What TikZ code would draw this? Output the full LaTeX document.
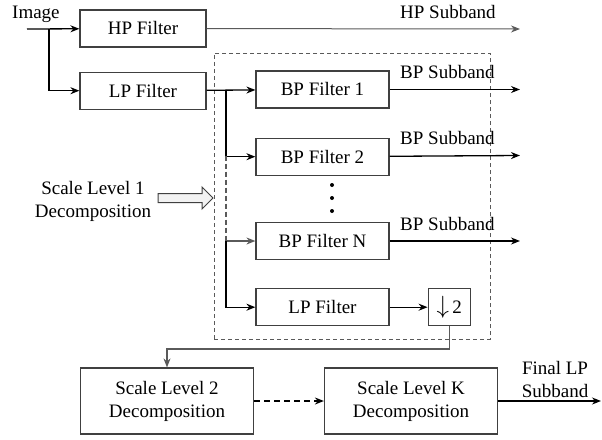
\documentclass[tikz,border=0pt]{standalone}
\usepackage{fontspec}
\setmainfont{Liberation Serif}
\usepackage{tikz}
\usetikzlibrary{arrows.meta,positioning,calc}
\definecolor{boxline}{RGB}{64,64,64}
\definecolor{wiregray}{RGB}{90,90,90}

\begin{document}
\begin{tikzpicture}[
    x=1pt, y=-1pt,
    font=\fontsize{19}{23}\selectfont,
    filterbox/.style={rectangle, draw=boxline, line width=1.2pt, minimum width=126pt, minimum height=37pt, inner sep=0pt},
    bpbox/.style={filterbox, minimum width=133pt},
    levelbox/.style={rectangle, draw=boxline, line width=1.2pt, minimum width=173pt, minimum height=66pt, align=center},
    lbl/.style={inner sep=0pt, anchor=base west},
    wire/.style={line width=1.3pt, -{Stealth[length=9pt,width=7pt]}},
    frame/.style={draw=wiregray, line width=0.9pt, dash pattern=on 4pt off 3pt}
]
    \useasboundingbox (0,0) rectangle (602,439);

    % first split
    \coordinate (in) at (27,29);
    \coordinate (split) at (49,29);
    \node[lbl] (imagelbl) at (12,18) {Image};
    \node[filterbox] (hp) at (143,28.5) {HP Filter};
    \node[filterbox, below=24pt of hp] (lp) {LP Filter};
    \coordinate (hpout) at (520,29);
    \node[lbl] (hplbl) at (400,18) {HP Subband};
    \draw[wire] (in) -- (hp);
    \draw[wire] (split) |- (lp);
    \draw[wire, wiregray, line width=1pt] (hp) -- (hpout);

    % scale level 1
    \node[frame, minimum width=276pt, minimum height=286pt] (lvlone) at (352,196) {};
    \node[bpbox] (bp1) at (322.5,89.5) {BP Filter 1};
    \node[bpbox, below=29pt of bp1] (bp2) {BP Filter 2};
    \node[bpbox] (bpn) at (322.5,241) {BP Filter N};
    \node[bpbox, below=28pt of bpn] (lp2) {LP Filter};
    \node[filterbox, minimum width=42pt, right=38pt of lp2] (down) {{\fontsize{25}{25}\selectfont$\downarrow$}\,2};
    \foreach \y in {185,198,211}
        \fill (332,\y) circle (2pt);

    \coordinate (b1) at (226,89.5);
    \coordinate (b2) at (226,155.5);
    \coordinate (bn) at (226,241);
    \draw[wire] (lp) -- (bp1);
    \draw[wire] (b1) |- (bp2);
    \draw[draw=wiregray, line width=1.2pt, dash pattern=on 5pt off 3pt] (b2) -- (bn);
    \draw[wire, wiregray] (bn) -- (bpn);
    \draw[wire] (bn) |- (lp2);
    \draw[wire] (lp2) -- (down);

    \foreach \n/\y in {bp1/89.5, bp2/155.5, bpn/241} {
        \coordinate (\n out) at (520,\y);
        \draw[wire] (\n) -- (\n out);
        \node[lbl] (\n lbl) at (400,\y-11) {BP Subband};
    }

    \node[align=center, inner sep=0pt] (lvlonelbl) at (93,201) {Scale Level 1\\Decomposition};
    \draw[draw=boxline, line width=1pt, fill=gray!10]
        (158,193.5) -- (202,193.5) -- (202,187) -- (213,198) -- (202,209) -- (202,202.5) -- (158,202.5) -- cycle;

    % further levels
    \node[levelbox] (lvl2) at (167,401) {Scale Level 2\\Decomposition};
    \node[levelbox] (lvlk) at (411,401) {Scale Level K\\Decomposition};
    \coordinate (turn) at (167,349);
    \draw[wire, wiregray, line width=1.1pt] (down) |- (turn) -- (lvl2);
    \draw[wire, dashed, dash pattern=on 6pt off 4pt] (lvl2) -- (lvlk);
    \coordinate (final) at (601,401);
    \draw[wire] (lvlk) -- (final);
    \node[align=center, inner sep=0pt] (finallbl) at (555,379) {Final LP\\Subband};
\end{tikzpicture}
\end{document}
